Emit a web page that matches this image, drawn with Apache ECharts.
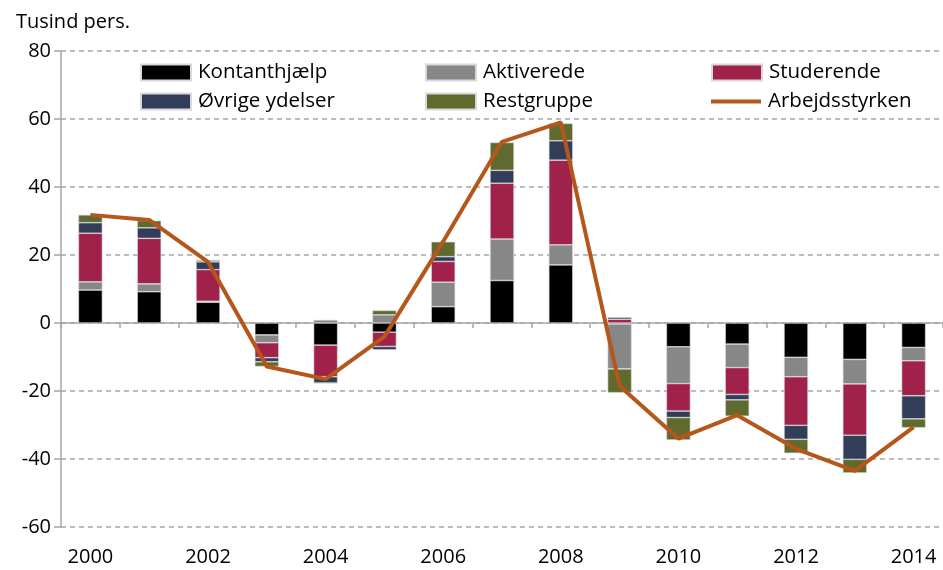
<!DOCTYPE html>
<html><head><meta charset="utf-8">
<script src="https://cdn.jsdelivr.net/npm/echarts@6/dist/echarts.min.js"></script>
<style>html,body{margin:0;padding:0;background:#fff}#c{width:943px;height:570px}</style>
</head><body><div id="c"></div>
<script>
const years = ['2000','2001','2002','2003','2004','2005','2006','2007','2008','2009','2010','2011','2012','2013','2014'];
const kontanthjaelp = [9.7, 9.2, 6.1, -3.5, -6.5, -2.7, 4.8, 12.5, 17.1, -0.3, -7.0, -6.2, -10.1, -10.7, -7.2];
const aktiverede = [2.4, 2.3, 0.3, -2.3, 0.9, 2.4, 7.2, 12.2, 5.9, -13.2, -10.8, -6.9, -5.7, -7.2, -3.9];
const studerende = [14.3, 13.4, 9.3, -4.4, -9.3, -4.2, 6.1, 16.4, 24.9, 1.1, -8.1, -7.9, -14.3, -15.1, -10.3];
const oevrige = [3.1, 3.1, 2.3, -1.2, -1.9, -1.0, 1.4, 3.8, 5.7, 0.6, -1.9, -1.6, -4.1, -7.1, -6.8];
const restgruppe = [2.3, 2.1, 0.5, -1.4, 0, 1.3, 4.4, 8.2, 5.1, -7.0, -6.6, -4.8, -4.1, -4.0, -2.6];
const arbejdsstyrken = [31.8, 30.3, 18.0, -12.8, -16.5, -4.0, 24.0, 53.3, 59.0, -18.5, -34.0, -27.1, -37.0, -43.5, -30.6];

const FONT = '"Open Sans", "Noto Sans", sans-serif';
const colors = {k:'#000000', a:'#878787', s:'#A0224A', o:'#323D5A', r:'#606A2E', l:'#B5561B'};
const chart = echarts.init(document.getElementById('c'), null, {renderer:'canvas'});

function bar(name, data, color){
  return {name, type:'bar', stack:'t', data, barWidth:24, xAxisIndex:0,
    itemStyle:{color, borderColor:'#d9d9d9', borderWidth:0.6}, z:2};
}
function leg(name, left, top){
  return {data:[name], left, top, itemWidth:50, itemHeight:16, itemGap:0, icon:'rect',
    textStyle:{fontFamily:FONT, fontSize:20.5, color:'#000', padding:[0,0,0,2]},
    selectedMode:false, padding:0};
}
chart.setOption({
  animation:false,
  title:{text:'Tusind pers.', left:11, top:7, textStyle:{fontFamily:FONT, fontSize:20, fontWeight:'normal', color:'#000'}},
  grid:{left:61, right:-9, top:51, bottom:43, containLabel:false},
  legend:[
    leg('Kontanthjælp',140,62), leg('Aktiverede',425,62), leg('Studerende',711,62),
    leg('Øvrige ydelser',140,91), leg('Restgruppe',425,91),
    Object.assign(leg('Arbejdsstyrken',711,91), {icon:'path://M0,6 L50,6 L50,10 L0,10 Z'})
  ],
  xAxis:[
    {type:'category', data:years, gridIndex:0,
     axisLine:{onZero:true, lineStyle:{color:'#A6A6A6', width:1.5}},
     axisTick:{show:true, alignWithLabel:false, interval:0, length:5, inside:false, lineStyle:{color:'#A6A6A6', width:1.5}},
     axisLabel:{show:false}, splitLine:{show:false}},
    {type:'category', data:years, gridIndex:0, position:'bottom',
     axisLine:{show:false, onZero:false}, axisTick:{show:false},
     axisLabel:{interval:1, margin:20, fontFamily:FONT, fontSize:20, color:'#000'}}
  ],
  yAxis:{type:'value', min:-60, max:80, interval:20,
    axisLine:{show:true, lineStyle:{color:'#A6A6A6', width:1.5}},
    axisTick:{show:true, length:7, lineStyle:{color:'#A6A6A6', width:1.5}},
    axisLabel:{margin:10, fontFamily:FONT, fontSize:20, color:'#000'},
    splitLine:{show:true, lineStyle:{color:'#A6A6A6', type:[5,4], width:1.5}}},
  series:[
    bar('Kontanthjælp', kontanthjaelp, colors.k),
    bar('Aktiverede', aktiverede, colors.a),
    bar('Studerende', studerende, colors.s),
    bar('Øvrige ydelser', oevrige, colors.o),
    bar('Restgruppe', restgruppe, colors.r),
    {name:'Arbejdsstyrken', type:'line', data:arbejdsstyrken, xAxisIndex:0,
     symbol:'none', lineStyle:{color:colors.l, width:4}, itemStyle:{color:colors.l}, z:5}
  ]
});
</script></body></html>
